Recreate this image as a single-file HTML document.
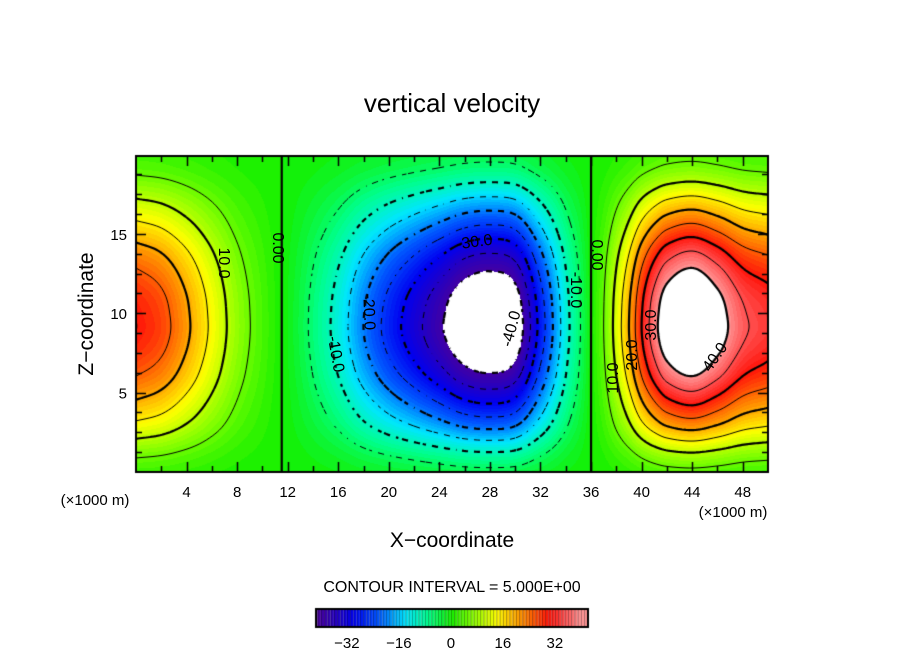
<!DOCTYPE html>
<html><head><meta charset="utf-8">
<style>
body{margin:0;background:#fff;}
#wrap{position:relative;width:904px;height:654px;overflow:hidden;font-family:"Liberation Sans",sans-serif;}
canvas{position:absolute;left:0;top:0;}
svg{position:absolute;left:0;top:0;}
text{font-family:"Liberation Sans",sans-serif;fill:#000;}
</style></head>
<body>
<div id="wrap">
<canvas id="cv" width="904" height="654"></canvas>
<svg id="sv" width="904" height="654">
  <text x="452" y="112" text-anchor="middle" font-size="26">vertical velocity</text>
  <text x="452" y="547" text-anchor="middle" font-size="21">X−coordinate</text>
  <text transform="translate(93,314) rotate(-90)" text-anchor="middle" font-size="21">Z−coordinate</text>
  <text x="95" y="505" text-anchor="middle" font-size="15">(×1000 m)</text>
  <text x="733" y="517" text-anchor="middle" font-size="15">(×1000 m)</text>
  <text x="452" y="592" text-anchor="middle" font-size="16">CONTOUR INTERVAL = 5.000E+00</text>
  <g id="labels" font-size="16">
    <text transform="translate(219,263) rotate(90)" text-anchor="middle">10.0</text>
    <text transform="translate(273,248) rotate(90)" text-anchor="middle">0.00</text>
    <text transform="translate(331,355) rotate(80)" text-anchor="middle">-10.0</text>
    <text transform="translate(364,312) rotate(88)" text-anchor="middle">-20.0</text>
    <text transform="translate(475,247) rotate(-8)" text-anchor="middle">-30.0</text>
    <text transform="translate(516,330) rotate(-75)" text-anchor="middle">-40.0</text>
    <text transform="translate(571,290) rotate(90)" text-anchor="middle">-10.0</text>
    <text transform="translate(592,255) rotate(90)" text-anchor="middle">0.00</text>
    <text transform="translate(618,378) rotate(-90)" text-anchor="middle">10.0</text>
    <text transform="translate(637,355) rotate(-90)" text-anchor="middle">20.0</text>
    <text transform="translate(656,325) rotate(-90)" text-anchor="middle">30.0</text>
    <text transform="translate(719,360) rotate(-55)" text-anchor="middle">40.0</text>
  </g>
</svg>
</div>
<script>
// ---- data ----
const xNodes = [0,2,4,6,8,10,12,14,16,18,20,22,24,26,28,30,32,34,35,36,37,38,39,40,41,42,44,46,48,50];
const xProfile = [30,27,21,14,7.5,3,-1,-6,-12,-20,-27,-33,-39,-45,-47,-44,-28,-12,-6,0,5,12,20,30,38,44,48,43,36,33];
const zNodes = [0,1,2,3,4,5,6,7,8,9,10,11,12,13,14,15,16,17,18,19,20];
const zProfile = [0.08,0.18,0.32,0.47,0.6,0.72,0.83,0.91,0.97,1.0,0.99,0.96,0.9,0.82,0.72,0.6,0.48,0.36,0.24,0.14,0.08];
const xTicks = [4,8,12,16,20,24,28,32,36,40,44,48];
const zTicks = [5,10,15];
const cbTicks = [-32,-16,0,16,32];
const levels = [-40,-35,-30,-25,-20,-15,-10,-5,0,5,10,15,20,25,30,35,40];

// ---- axes ----
const X0=136,X1=768,Y0=472,Y1=156, XMAX=50, ZMAX=19.9;
const sx = x => X0 + (x/XMAX)*(X1-X0);
const sy = z => Y0 - (z/ZMAX)*(Y0-Y1);
const CB0=316,CB1=588,CBMIN=-41.5,CBMAX=42.2;
const cbx = v => CB0 + (v-CBMIN)/(CBMAX-CBMIN)*(CB1-CB0);

// smooth (Catmull-Rom) interpolation through read values
function interp(nodes, vals, t){
  const n=nodes.length;
  if(t<=nodes[0]) return vals[0];
  if(t>=nodes[n-1]) return vals[n-1];
  let i=1; while(t>nodes[i]) i++;
  const x0=nodes[i-1],x1=nodes[i],h=x1-x0,s=(t-x0)/h;
  const p0=vals[i-1],p1=vals[i];
  const m0 = i-2>=0 ? (vals[i]-vals[i-2])/(nodes[i]-nodes[i-2])*h : (p1-p0);
  const m1 = i+1<n ? (vals[i+1]-vals[i-1])/(nodes[i+1]-nodes[i-1])*h : (p1-p0);
  const s2=s*s,s3=s2*s;
  return (2*s3-3*s2+1)*p0+(s3-2*s2+s)*m0+(-2*s3+3*s2)*p1+(s3-s2)*m1;
}
function field(x,z){ return interp(xNodes,xProfile,x)*interp(zNodes,zProfile,z); }

const stops=[[-42,[80,0,150]],[-36,[40,0,190]],[-30,[0,0,240]],[-22,[0,90,255]],[-14,[0,230,255]],[-7,[0,255,140]],[0,[20,240,0]],[7,[140,255,0]],[14,[255,255,0]],[22,[255,140,0]],[30,[255,20,10]],[35,[255,80,80]],[40,[255,150,150]]];
function cmap(v){
  if(v<=stops[0][0]) return stops[0][1];
  for(let i=1;i<stops.length;i++){ if(v<=stops[i][0]){ const a=stops[i-1],b=stops[i],f=(v-a[0])/(b[0]-a[0]); return [0,1,2].map(k=>Math.round(a[1][k]+f*(b[1][k]-a[1][k]))); } }
  return stops[stops.length-1][1];
}

const cv=document.getElementById('cv'); const ctx=cv.getContext('2d');
const W=X1-X0, H=Y0-Y1;
const img=ctx.createImageData(W,H);
for(let py=0;py<H;py++){ const z=(Y0-(Y1+py+0.5))/(Y0-Y1)*ZMAX;
  for(let px=0;px<W;px++){ const x=(px+0.5)/W*XMAX; const v=field(x,z);
    let c; if(v>40||v<-40) c=[255,255,255]; else c=cmap(Math.floor(v)+0.5);
    const o=(py*W+px)*4; img.data[o]=c[0];img.data[o+1]=c[1];img.data[o+2]=c[2];img.data[o+3]=255; } }
ctx.putImageData(img,X0,Y1);

// contours (marching squares)
const st=2, nx=Math.ceil(W/st), ny=Math.ceil(H/st);
const g=[]; for(let j=0;j<=ny;j++){ g.push([]); for(let i=0;i<=nx;i++){ const px=X0+Math.min(i*st,W), py=Y1+Math.min(j*st,H);
  g[j].push(field((px-X0)/W*XMAX,(Y0-py)/H*ZMAX)); } }
ctx.save(); ctx.beginPath(); ctx.rect(X0,Y1,W,H); ctx.clip();
ctx.strokeStyle='#000';
for(const L of levels){
  ctx.lineWidth = (L%10===0)?2.2:1;
  ctx.beginPath();
  for(let j=0;j<ny;j++)for(let i=0;i<nx;i++){
    const xa=X0+i*st, xb=X0+Math.min((i+1)*st,W), ya=Y1+j*st, yb=Y1+Math.min((j+1)*st,H);
    const c=[[xa,ya,g[j][i]],[xb,ya,g[j][i+1]],[xb,yb,g[j+1][i+1]],[xa,yb,g[j+1][i]]];
    const pts=[];
    for(let k=0;k<4;k++){ const a=c[k],b=c[(k+1)%4];
      if((a[2]-L)*(b[2]-L)<0){ const f=(L-a[2])/(b[2]-a[2]); pts.push([a[0]+f*(b[0]-a[0]),a[1]+f*(b[1]-a[1])]); } }
    for(let k=0;k+1<pts.length;k+=2){
      const mx=(pts[k][0]+pts[k+1][0])/2, my=(pts[k][1]+pts[k+1][1])/2;
      if(L<0 && ((Math.floor(mx/6)+Math.floor(my/6))%2===1)) continue;
      ctx.moveTo(pts[k][0],pts[k][1]); ctx.lineTo(pts[k+1][0],pts[k+1][1]); }
  }
  ctx.stroke();
}
ctx.restore();

// frame + ticks
ctx.strokeStyle='#000'; ctx.lineWidth=2; ctx.strokeRect(X0,Y1,W,H);
ctx.lineWidth=1.5; ctx.beginPath();
for(let x=2;x<XMAX;x+=2){ const len=(x%4===0)?10:6; const p=Math.round(sx(x))+0.5;
  ctx.moveTo(p,Y0);ctx.lineTo(p,Y0-len); ctx.moveTo(p,Y1);ctx.lineTo(p,Y1+len); }
for(let z=1.25;z<ZMAX;z+=1.25){ const len=(Math.abs(z%5)<1e-6)?10:6; const p=Math.round(sy(z))+0.5;
  ctx.moveTo(X0,p);ctx.lineTo(X0+len,p); ctx.moveTo(X1,p);ctx.lineTo(X1-len,p); }
ctx.stroke();

// colorbar
const CBY0=609, CBY1=627;
for(let v=-42;v<42;v+=1){ const c=cmap(v+0.5); const a=Math.max(cbx(v),CB0), b=Math.min(cbx(v+1),CB1); if(b<=a) continue;
  ctx.fillStyle=`rgb(${c[0]},${c[1]},${c[2]})`; ctx.fillRect(a,CBY0,b-a,CBY1-CBY0);
  ctx.fillStyle='rgba(0,0,0,0.35)'; ctx.fillRect(a,CBY0,1,CBY1-CBY0); }
ctx.lineWidth=2; ctx.strokeRect(CB0,CBY0,CB1-CB0,CBY1-CBY0);

// svg labels
const NS='http://www.w3.org/2000/svg', sv=document.getElementById('sv');
for(const t of xTicks){ const el=document.createElementNS(NS,'text');
  
  
  el.setAttribute('x',sx(t)); el.setAttribute('y',497); el.setAttribute('text-anchor','middle'); el.setAttribute('font-size','15'); el.textContent=t; sv.appendChild(el); }
for(const t of zTicks){ const el=document.createElementNS(NS,'text');
  
  
  el.setAttribute('x',127); el.setAttribute('y',sy(t)+6); el.setAttribute('text-anchor','end'); el.setAttribute('font-size','15'); el.textContent=t; sv.appendChild(el); }
for(const t of cbTicks){ const el=document.createElementNS(NS,'text');
  
  
  el.setAttribute('x',cbx(t)); el.setAttribute('y',648); el.setAttribute('text-anchor','middle'); el.setAttribute('font-size','15'); el.textContent=(t<0?'−'+(-t):t); sv.appendChild(el); }
</script>
</body></html>
